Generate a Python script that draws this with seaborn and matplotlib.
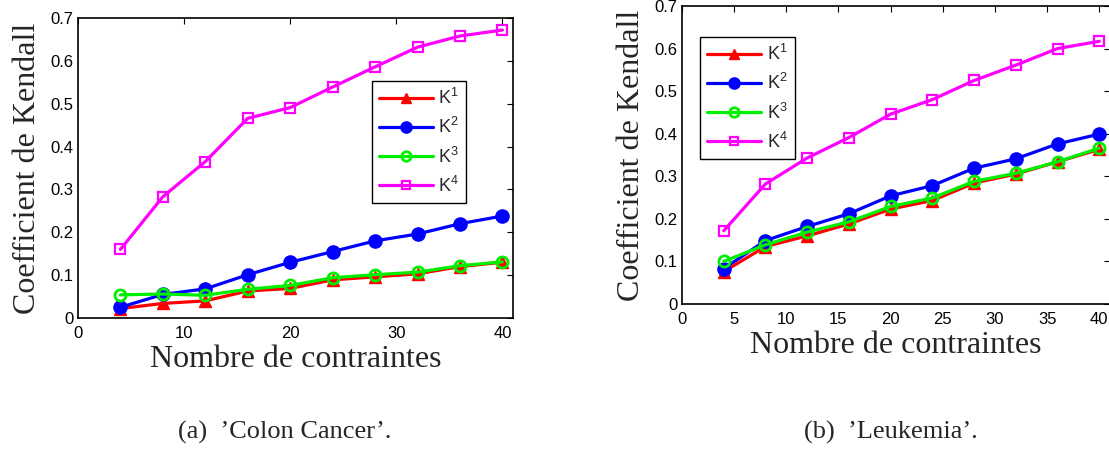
import numpy as np
import pandas as pd
import seaborn as sns
import matplotlib
matplotlib.use("Agg")
import matplotlib.pyplot as plt
from matplotlib.lines import Line2D

# Number of constraints on the x axis
contraintes = [4, 8, 12, 16, 20, 24, 28, 32, 36, 40]

# (a) Colon Cancer
colon_k1 = [0.022, 0.034, 0.040, 0.063, 0.069, 0.089, 0.096, 0.103, 0.120, 0.130]
colon_k2 = [0.025, 0.055, 0.068, 0.101, 0.130, 0.155, 0.180, 0.196, 0.220, 0.238]
colon_k3 = [0.054, 0.056, 0.053, 0.067, 0.076, 0.094, 0.101, 0.107, 0.122, 0.131]
colon_k4 = [0.160, 0.283, 0.365, 0.466, 0.491, 0.539, 0.586, 0.632, 0.658, 0.672]

# (b) Leukemia
leuk_k1 = [0.076, 0.135, 0.160, 0.188, 0.223, 0.243, 0.284, 0.305, 0.334, 0.363]
leuk_k2 = [0.083, 0.149, 0.182, 0.212, 0.254, 0.278, 0.319, 0.341, 0.376, 0.399]
leuk_k3 = [0.100, 0.139, 0.169, 0.193, 0.229, 0.249, 0.288, 0.307, 0.334, 0.366]
leuk_k4 = [0.172, 0.282, 0.343, 0.391, 0.446, 0.480, 0.525, 0.561, 0.600, 0.617]

series_names = ["K1", "K2", "K3", "K4"]
legend_labels = [r"K$^{1}$", r"K$^{2}$", r"K$^{3}$", r"K$^{4}$"]
captions = ["(a)  \u2019Colon Cancer\u2019.", "(b)  \u2019Leukemia\u2019."]

sns.set_style("white")
plt.rcParams["font.family"] = ["Liberation Sans", "DejaVu Sans"]
plt.rcParams["mathtext.default"] = "regular"

styles = {
    "K1": dict(color="#ff0000", marker="^", markersize=9, markerfacecolor="#ff0000",
               markeredgecolor="#ff0000", markeredgewidth=1),
    "K2": dict(color="#0000ff", marker="o", markersize=9.5, markerfacecolor="#0000ff",
               markeredgecolor="#0000ff", markeredgewidth=1),
    "K3": dict(color="#00ee00", marker="o", markersize=8, markerfacecolor="none",
               markeredgecolor="#00ee00", markeredgewidth=2),
    "K4": dict(color="#ff00ff", marker="s", markersize=6.5, markerfacecolor="none",
               markeredgecolor="#ff00ff", markeredgewidth=1.6),
}


def long_frame(values):
    rows = []
    for name, vals in zip(series_names, values):
        for x, y in zip(contraintes, vals):
            rows.append({"contraintes": x, "kendall": y, "serie": name})
    return pd.DataFrame(rows)


def draw_panel(ax, values, xticks, legend_loc):
    df = long_frame(values)
    for name in series_names:
        sub = df[df["serie"] == name]
        sns.lineplot(data=sub, x="contraintes", y="kendall", ax=ax,
                     linewidth=2.3, legend=False, **styles[name])
    ax.set_xlim(0, 41)
    ax.set_ylim(0, 0.7)
    ax.set_xticks(xticks)
    ax.set_yticks(np.arange(0, 0.71, 0.1))
    ax.set_yticklabels(["0", "0.1", "0.2", "0.3", "0.4", "0.5", "0.6", "0.7"])
    ax.set_xticklabels([str(t) for t in xticks])
    ax.tick_params(direction="in", length=4, width=0.8, top=True, right=True,
                   labelsize=12, pad=3, colors="black")
    ax.tick_params(axis="x", pad=6)
    for s in ax.spines.values():
        s.set_visible(True)
        s.set_color("black")
        s.set_linewidth(1.2)
    ax.set_xlabel("Nombre de contraintes", family=["Liberation Serif"],
                  fontsize=23, labelpad=3)
    ax.set_ylabel("Coefficient de Kendall", family=["Liberation Serif"],
                  fontsize=23, labelpad=6)
    handles = [Line2D([], [], linewidth=2.3,
                      **{**styles[n], "markersize": styles[n]["markersize"] * 0.85})
               for n in series_names]
    leg = ax.legend(handles, legend_labels, loc="upper left",
                    bbox_to_anchor=legend_loc, fontsize=13, frameon=True,
                    fancybox=False, framealpha=1, edgecolor="black",
                    handlelength=3.0, handletextpad=0.3, borderpad=0.4,
                    labelspacing=0.5, borderaxespad=0)
    leg.get_frame().set_linewidth(1.0)


fig = plt.figure(figsize=(11.09, 4.55), dpi=100)
ax_a = fig.add_axes([0.0703, 0.3011, 0.3923, 0.6593])
ax_b = fig.add_axes([0.615, 0.3319, 0.3856, 0.655])

draw_panel(ax_a, [colon_k1, colon_k2, colon_k3, colon_k4],
           [0, 10, 20, 30, 40], (0.675, 0.79))
draw_panel(ax_b, [leuk_k1, leuk_k2, leuk_k3, leuk_k4],
           [0, 5, 10, 15, 20, 25, 30, 35, 40], (0.042, 0.896))

fig.text(0.257, 0.05, captions[0], family=["Liberation Serif"], fontsize=19,
         ha="center", va="center")
fig.text(0.803, 0.05, captions[1], family=["Liberation Serif"], fontsize=19,
         ha="center", va="center")

fig.savefig("out.png", dpi=100, facecolor="white")
